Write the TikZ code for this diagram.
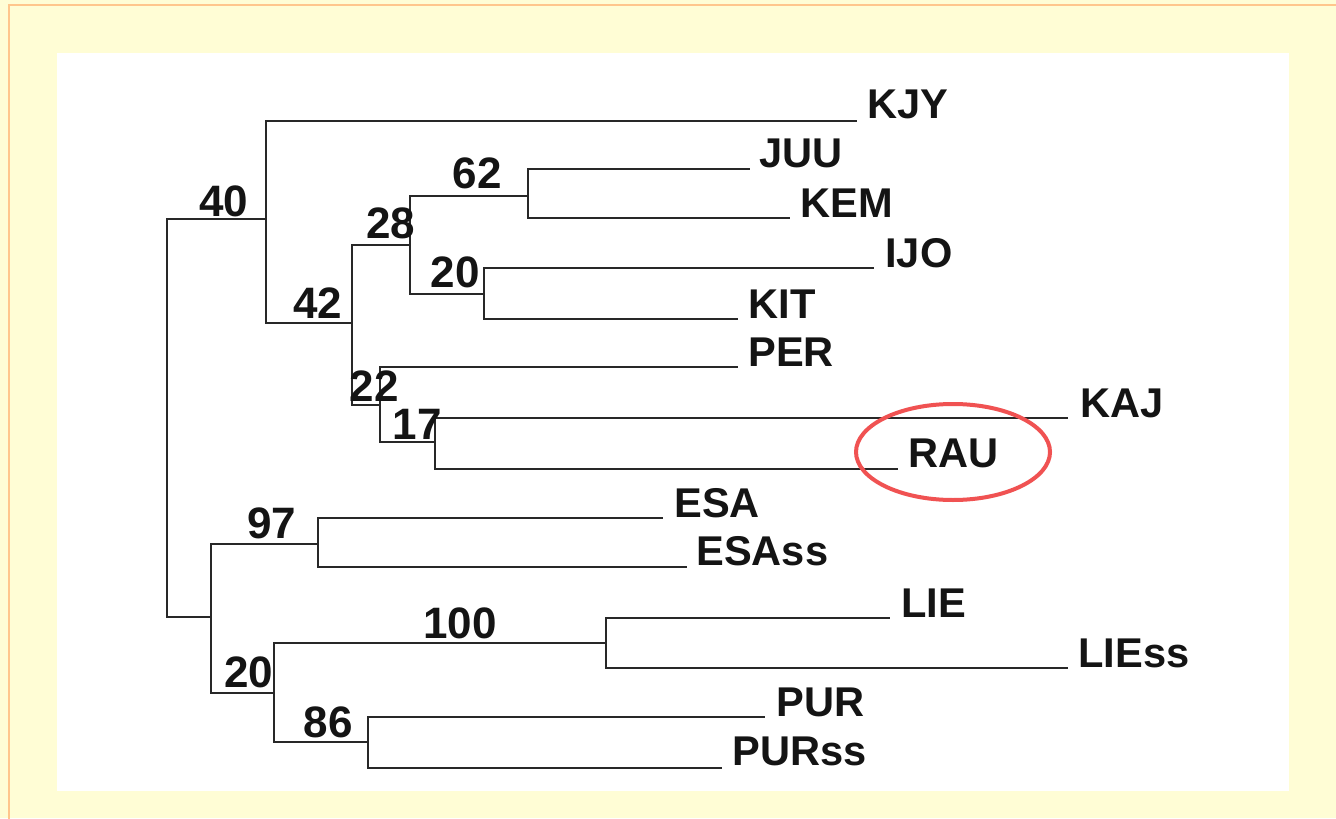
\documentclass[tikz,border=0pt]{standalone}
\usepackage{fontspec}
\setmainfont{Liberation Sans}
\definecolor{bgyellow}{RGB}{255,253,213}
\definecolor{bgborder}{RGB}{255,198,140}
\definecolor{treeline}{RGB}{40,40,40}
\definecolor{textdark}{RGB}{20,20,20}
\definecolor{ringred}{RGB}{240,82,82}
\begin{document}
\begin{tikzpicture}[x=0.5pt,y=-0.5pt,
  branch/.style={draw=treeline,line width=1pt},
  leaflabel/.style={anchor=base west,inner sep=0pt,text=textdark,font=\fontsize{20.8}{25}\selectfont\bfseries},
  support/.style={anchor=base,inner sep=0pt,text=textdark,font=\fontsize{22}{26}\selectfont\bfseries},
  ring/.style={draw=ringred,line width=2pt}]
\useasboundingbox (0,0) rectangle (1336,818);
\fill[bgyellow] (0,0) rectangle (1336,818);
\draw[bgborder,line width=1.3pt] (9,5) rectangle (1360,840);
\fill[white] (57,53) rectangle (1289,791);

% internal nodes (vertical x, stem y)
\coordinate (root) at (167,418);
\coordinate (n40) at (266,219);
\coordinate (n42) at (352,323);
\coordinate (n28) at (410,245);
\coordinate (n62) at (528,196);
\coordinate (n20a) at (484,294);
\coordinate (n22) at (380,405);
\coordinate (n17) at (435,442);
\coordinate (nB) at (211,617);
\coordinate (n97) at (318,544);
\coordinate (n20b) at (274,693);
\coordinate (n100) at (606,643);
\coordinate (n86) at (368,742);

% leaf line ends
\coordinate (lKJY) at (857,121);
\coordinate (lJUU) at (750,169);
\coordinate (lKEM) at (790,218);
\coordinate (lIJO) at (874,268);
\coordinate (lKIT) at (738,319);
\coordinate (lPER) at (738,367);
\coordinate (lKAJ) at (1068,418);
\coordinate (lRAU) at (898,469);
\coordinate (lESA) at (663,518);
\coordinate (lESAss) at (687,567);
\coordinate (lLIE) at (890,618);
\coordinate (lLIEss) at (1068,668);
\coordinate (lPUR) at (765,717);
\coordinate (lPURss) at (722,768);

% branches
\draw[branch] (root) |- (n40);
\draw[branch] (root) |- (nB);
\draw[branch] (n40) |- (lKJY);
\draw[branch] (n40) |- (n42);
\draw[branch] (n42) |- (n28);
\draw[branch] (n42) |- (n22);
\draw[branch] (n28) |- (n62);
\draw[branch] (n28) |- (n20a);
\draw[branch] (n62) |- (lJUU);
\draw[branch] (n62) |- (lKEM);
\draw[branch] (n20a) |- (lIJO);
\draw[branch] (n20a) |- (lKIT);
\draw[branch] (n22) |- (lPER);
\draw[branch] (n22) |- (n17);
\draw[branch] (n17) |- (lKAJ);
\draw[branch] (n17) |- (lRAU);
\draw[branch] (nB) |- (n97);
\draw[branch] (nB) |- (n20b);
\draw[branch] (n97) |- (lESA);
\draw[branch] (n97) |- (lESAss);
\draw[branch] (n20b) |- (n100);
\draw[branch] (n20b) |- (n86);
\draw[branch] (n100) |- (lLIE);
\draw[branch] (n100) |- (lLIEss);
\draw[branch] (n86) |- (lPUR);
\draw[branch] (n86) |- (lPURss);

% leaf labels
\node[leaflabel] (tKJY) at (867,119) {KJY};
\node[leaflabel] (tJUU) at (759,168) {JUU};
\node[leaflabel] (tKEM) at (800,217) {KEM};
\node[leaflabel] (tIJO) at (885,267) {IJO};
\node[leaflabel] (tKIT) at (748,318) {KIT};
\node[leaflabel] (tPER) at (748,366) {PER};
\node[leaflabel] (tKAJ) at (1080,417) {KAJ};
\node[leaflabel] (tRAU) at (908,467) {RAU};
\node[leaflabel] (tESA) at (674,517) {ESA};
\node[leaflabel] (tESAss) at (696,565) {ESAss};
\node[leaflabel] (tLIE) at (901,617) {LIE};
\node[leaflabel] (tLIEss) at (1078,667) {LIEss};
\node[leaflabel] (tPUR) at (776,716) {PUR};
\node[leaflabel] (tPURss) at (732,765) {PURss};

% support values
\node[support] (s40) at (224,216) {40};
\node[support] (s42) at (318,318) {42};
\node[support] (s28) at (391,238) {28};
\node[support] (s62) at (477,189) {62};
\node[support] (s20a) at (455,287) {20};
\node[support] (s22) at (374,401) {22};
\node[support] (s17) at (417,439) {17};
\node[support] (s97) at (272,538) {97};
\node[support] (s100) at (460,638) {100};
\node[support] (s20b) at (249,687) {20};
\node[support] (s86) at (328,737) {86};

% highlight ring
\draw[ring] (953,452) ellipse [x radius=97, y radius=48];
\end{tikzpicture}
\end{document}
